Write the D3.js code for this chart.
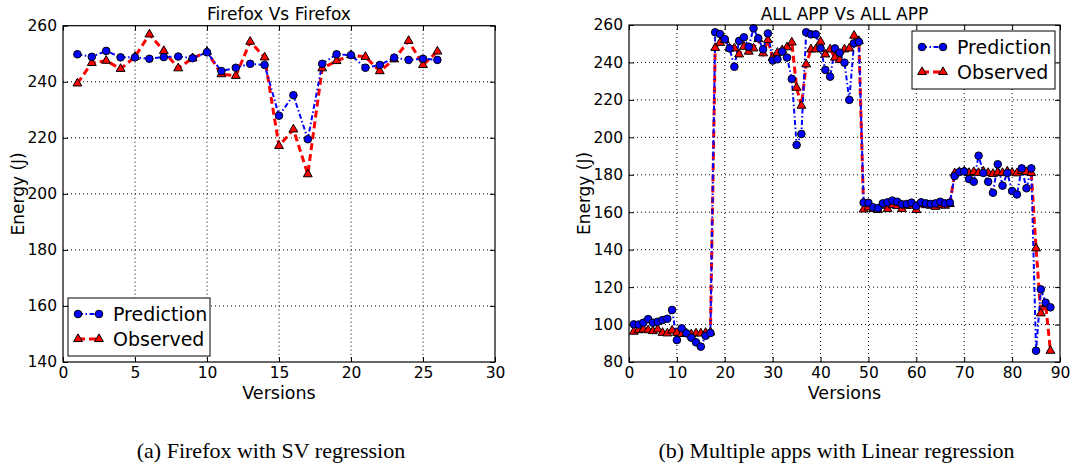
<!DOCTYPE html>
<html>
<head>
<meta charset="utf-8">
<script src="https://cdn.jsdelivr.net/npm/d3@7/dist/d3.min.js"></script>
<style>
body { margin: 0; background: #fff; }
svg text { font-family: "DejaVu Sans", sans-serif; fill: #000; }
.grid line { stroke: #000; stroke-width: 1; stroke-dasharray: 1, 3; }
.caption { font-family: "Liberation Serif", "Times New Roman", serif; }
</style>
</head>
<body>
<script>
//energy per version, Firefox with SV regression
var ffPrediction = [249.8, 248.9, 251, 248.7, 248.7, 248.2, 248.8, 249, 248.4, 250.5,
    243.8, 245, 246.4, 246, 227.9, 235.2, 219.5, 246.4, 249.8, 249.5,
    245, 246, 248.6, 247.8, 248.2, 247.8];
var ffObserved = [239.4, 246.7, 247.5, 244.6, 248.9, 256.9, 251, 244.8, 248.4, 250.7,
    242.7, 242.1, 254.3, 248.7, 217.1, 223, 207, 244.8, 247.4, 249.5,
    248.9, 243.8, 248, 254.6, 246, 250.8];

//energy per version, all apps with linear regression
var appPrediction = [100.1, 100, 101, 102.9, 101, 101.5, 102.4, 103.1, 107.8, 91.7,
    98, 95.3, 93, 90.5, 88.2, 94, 95.5,
    256.1, 255.2, 252.5, 247.5, 237.7, 251.5, 253.4, 248.4, 258.2, 252.9,
    247, 255.5, 241, 241.7, 245.8, 242.6, 231.2, 195.9, 201.8, 256.1,
    255, 255, 247.5, 236, 232.4, 247.5, 245.2, 239.9, 220, 250.2, 251,
    165.1, 165, 162.6, 162.1, 164.7, 165.3, 166.2, 165.6, 164.2, 164.4,
    165.1, 163.3, 165.3, 164.7, 164.4, 164.7, 165.6, 164.7, 165.1,
    179.3, 181.5, 181.8, 177.7, 176.3, 190.2, 181, 176.3, 170.4, 185.6,
    174.2, 181, 171.3, 169.5, 183.4, 172.8, 183.4,
    86, 118.8, 111.7, 109.2];
var appObserved = [96.2, 97, 97.4, 97, 96.5, 97.4, 95.6, 95.3, 96.8, 95.6,
    95, 95.3, 94.8, 95.3, 95.3, 95.6, 95.8,
    247.8, 250.5, 252, 247.5, 247.5, 244.3, 248.4, 245.8, 247.5, 252.5,
    244.9, 252, 242.6, 245.2, 246.6, 248.1, 250.7, 226.5, 216.9, 239,
    247, 247, 251.1, 244.3, 247, 242.6, 241.3, 247, 247.5, 254.3, 251.5,
    161.5, 162.6, 161.7, 161.2, 163.5, 161.7, 163.8, 163.3, 161.7, 163.5,
    163.5, 161.2, 164.4, 163.8, 163.5, 162.9, 163.8, 163.5, 164.4,
    180.8, 181.5, 181.8, 181, 181.5, 181, 181.8, 181, 180.5, 181.2,
    181, 181.8, 181.2, 180.8, 182, 181.5, 181,
    140.7, 106, 110.9, 86];

var ffXTicks = [0, 5, 10, 15, 20, 25, 30];
var ffYTicks = [140, 160, 180, 200, 220, 240, 260];
var appXTicks = [0, 10, 20, 30, 40, 50, 60, 70, 80, 90];
var appYTicks = [80, 100, 120, 140, 160, 180, 200, 220, 240, 260];

var seriesNames = ["Prediction", "Observed"];

var width = 1071, height = 464;

var svg = d3.select("body").append("svg")
    .attr("width", width)
    .attr("height", height);

drawPanel({
    left: 63, right: 495, top: 25.7, bottom: 362,
    xDomain: [0, 30], yDomain: [140, 260],
    xTicks: ffXTicks, yTicks: ffYTicks,
    pred: ffPrediction, obs: ffObserved,
    title: "Firefox Vs Firefox",
    caption: "(a) Firefox with SV regression",
    legend: { x: 68, y: 298, w: 142, h: 58 }
});

drawPanel({
    left: 629, right: 1060, top: 25, bottom: 362,
    xDomain: [0, 90], yDomain: [80, 260],
    xTicks: appXTicks, yTicks: appYTicks,
    pred: appPrediction, obs: appObserved,
    title: "ALL APP Vs ALL APP",
    caption: "(b) Multiple apps with Linear regression",
    legend: { x: 912, y: 31, w: 143, h: 58 }
});

function drawPanel(p){

    var x = d3.scaleLinear().domain(p.xDomain).range([p.left, p.right]);
    var y = d3.scaleLinear().domain(p.yDomain).range([p.bottom, p.top]);
    var g = svg.append("g");

    //dotted grid
    var grid = g.append("g").attr("class", "grid");
    grid.selectAll(".gx")
        .data(p.xTicks.slice(1, -1))
        .enter().append("line")
        .attr("x1", function(d){ return x(d); })
        .attr("x2", function(d){ return x(d); })
        .attr("y1", p.top).attr("y2", p.bottom);
    grid.selectAll(".gy")
        .data(p.yTicks.slice(1, -1))
        .enter().append("line")
        .attr("y1", function(d){ return y(d); })
        .attr("y2", function(d){ return y(d); })
        .attr("x1", p.left).attr("x2", p.right);

    //axes, ticks pointing inwards on all four sides
    function style(a){
        a.select(".domain").remove();
        a.selectAll(".tick line").attr("stroke", "#000");
        a.selectAll("text").attr("font-size", 15.5).attr("font-family", "DejaVu Sans");
    }
    g.append("g").attr("transform", "translate(0," + p.bottom + ")")
        .call(d3.axisBottom(x).tickValues(p.xTicks).tickFormat(d3.format("d"))
            .tickSizeInner(-5).tickPadding(5))
        .call(style);
    g.append("g").attr("transform", "translate(0," + p.top + ")")
        .call(d3.axisTop(x).tickValues(p.xTicks).tickFormat("").tickSizeInner(-5))
        .call(style);
    g.append("g").attr("transform", "translate(" + p.left + ",0)")
        .call(d3.axisLeft(y).tickValues(p.yTicks).tickFormat(d3.format("d"))
            .tickSizeInner(-5).tickPadding(6))
        .call(style);
    g.append("g").attr("transform", "translate(" + p.right + ",0)")
        .call(d3.axisRight(y).tickValues(p.yTicks).tickFormat("").tickSizeInner(-5))
        .call(style);

    //lines
    var line = d3.line()
        .x(function(d, i){ return x(i + 1); })
        .y(function(d){ return y(d); });

    g.append("path")
        .datum(p.obs)
        .attr("fill", "none")
        .attr("stroke", "#ff0000")
        .attr("stroke-width", 3)
        .attr("stroke-dasharray", "7,4")
        .attr("d", line);

    g.append("path")
        .datum(p.pred)
        .attr("fill", "none")
        .attr("stroke", "#0000ff")
        .attr("stroke-width", 2)
        .attr("stroke-dasharray", "5,2.5,1.5,2.5")
        .attr("d", line);

    //markers
    var tri = d3.symbol().type(d3.symbolTriangle).size(34);
    g.selectAll(".obs")
        .data(p.obs)
        .enter().append("path")
        .attr("class", "obs")
        .attr("transform", function(d, i){ return "translate(" + x(i + 1) + "," + y(d) + ")"; })
        .attr("d", tri)
        .attr("fill", "#ff0000")
        .attr("stroke", "#000")
        .attr("stroke-width", 1);

    g.selectAll(".pred")
        .data(p.pred)
        .enter().append("circle")
        .attr("class", "pred")
        .attr("cx", function(d, i){ return x(i + 1); })
        .attr("cy", function(d){ return y(d); })
        .attr("r", 3.8)
        .attr("fill", "#0000ff")
        .attr("stroke", "#000")
        .attr("stroke-width", 1);

    //frame
    g.append("rect")
        .attr("x", p.left).attr("y", p.top)
        .attr("width", p.right - p.left).attr("height", p.bottom - p.top)
        .attr("fill", "none").attr("stroke", "#000").attr("stroke-width", 1.2);

    //labels
    g.append("text")
        .attr("x", (p.left + p.right) / 2).attr("y", 20)
        .attr("text-anchor", "middle").attr("font-size", 17)
        .text(p.title);
    g.append("text")
        .attr("x", (p.left + p.right) / 2).attr("y", 399)
        .attr("text-anchor", "middle").attr("font-size", 17.5)
        .text("Versions");
    g.append("text")
        .attr("transform", "translate(" + (p.left - 39) + "," + ((p.top + p.bottom) / 2) + ") rotate(-90)")
        .attr("text-anchor", "middle").attr("font-size", 17)
        .text("Energy (J)");
    g.append("text")
        .attr("class", "caption")
        .attr("x", (p.left + p.right) / 2 - 8).attr("y", 458)
        .attr("text-anchor", "middle").attr("font-size", 22)
        .text(p.caption);

    //legend
    var L = p.legend;
    var lg = g.append("g").attr("transform", "translate(" + L.x + "," + L.y + ")");
    lg.append("rect")
        .attr("width", L.w).attr("height", L.h)
        .attr("fill", "#fff").attr("stroke", "#000").attr("stroke-width", 1);

    var rows = lg.selectAll(".row")
        .data(seriesNames)
        .enter().append("g")
        .attr("transform", function(d, i){ return "translate(0," + (16 + i * 25) + ")"; });

    rows.append("line")
        .attr("x1", 10).attr("x2", 31).attr("y1", 0).attr("y2", 0)
        .attr("stroke", function(d, i){ return i == 0 ? "#0000ff" : "#ff0000"; })
        .attr("stroke-width", function(d, i){ return i == 0 ? 2 : 3; })
        .attr("stroke-dasharray", function(d, i){ return i == 0 ? "5,2.5,1.5,2.5" : "7,4"; });

    rows.each(function(d, i){
        var r = d3.select(this);
        [10, 31].forEach(function(mx){
            if (i == 0) {
                r.append("circle").attr("cx", mx).attr("cy", 0).attr("r", 3.8)
                    .attr("fill", "#0000ff").attr("stroke", "#000");
            } else {
                r.append("path").attr("transform", "translate(" + mx + ",0)")
                    .attr("d", tri).attr("fill", "#ff0000").attr("stroke", "#000");
            }
        });
    });

    rows.append("text")
        .attr("x", 45).attr("y", 6.5)
        .attr("font-size", 19)
        .text(function(d){ return d; });
}
</script>
</body>
</html>
